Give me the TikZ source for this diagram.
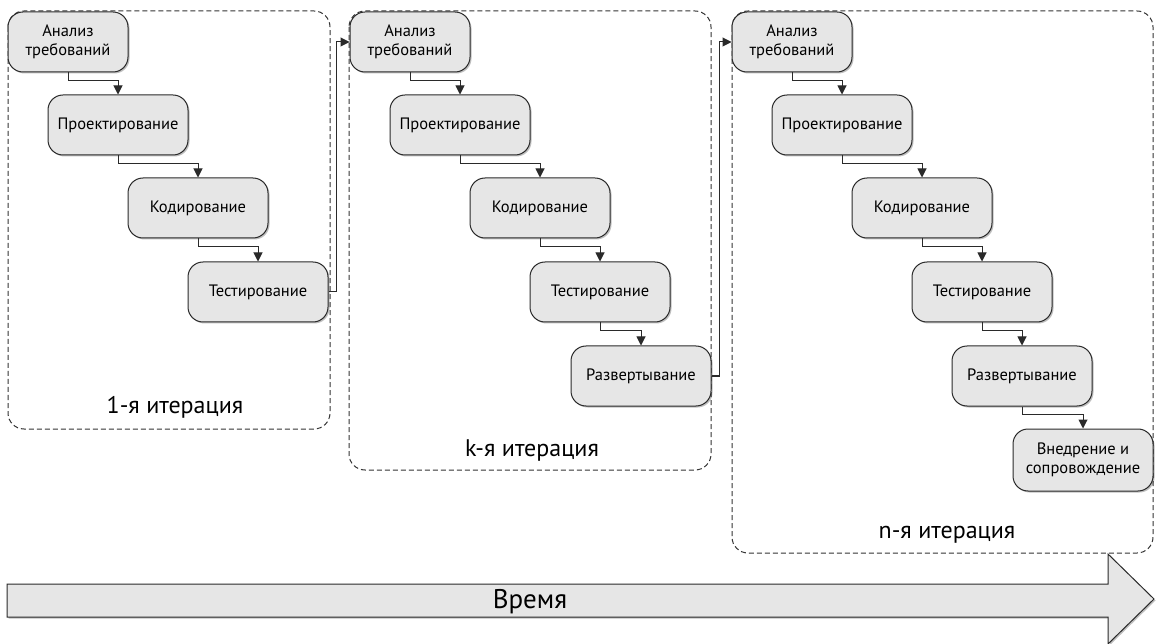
\documentclass[tikz,border=0pt]{standalone}
\usepackage{fontspec}
\setmainfont{PT Sans}
\usetikzlibrary{arrows.meta,shadows}
\definecolor{boxfill}{HTML}{E6E6E6}
\definecolor{linecol}{HTML}{2A2A2A}
\tikzset{
  stage/.style={draw=linecol, line width=1pt, fill=boxfill, rounded corners=15pt,
    minimum width=140pt, minimum height=60pt, align=center, inner sep=2pt,
    font=\fontsize{16.5}{19}\selectfont,
    drop shadow={shadow xshift=1.5pt, shadow yshift=-1.5pt, opacity=0.25, fill=black}},
  stagesmall/.style={stage, minimum width=120pt},
  conn/.style={draw=linecol, line width=1pt, -{Triangle[length=9pt,width=9pt]}},
  group/.style={draw=black!80, line width=1pt, dash pattern=on 5pt off 3pt, rounded corners=16pt},
  grouplabel/.style={font=\fontsize{24}{28}\selectfont, inner sep=0pt},
}
\begin{document}
\begin{tikzpicture}[x=1pt,y=-1pt]
\useasboundingbox (0,0) rectangle (1157,644);
% groups
\draw[group] (8,11) rectangle (330,429);
\draw[group] (349,11) rectangle (711,470);
\draw[group] (732,11) rectangle (1153,553);
\node[grouplabel] (L1) at (175,407) {1-я итерация};
\node[grouplabel] (L2) at (532,450) {k-я итерация};
\node[grouplabel] (L3) at (947,535) {n-я итерация};
% group 1
\node[stagesmall] (A1) at (68,42) {Анализ\\требований};
\node[stage] (P1) at (118,125) {Проектирование};
\node[stage] (K1) at (198,208) {Кодирование};
\node[stage] (T1) at (258,292) {Тестирование};
% group 2
\node[stagesmall] (A2) at (410,42) {Анализ\\требований};
\node[stage] (P2) at (460,125) {Проектирование};
\node[stage] (K2) at (540,208) {Кодирование};
\node[stage] (T2) at (600,292) {Тестирование};
\node[stage] (R2) at (641,376) {Развертывание};
% group 3
\node[stagesmall] (A3) at (792,42) {Анализ\\требований};
\node[stage] (P3) at (842,125) {Проектирование};
\node[stage] (K3) at (922,208) {Кодирование};
\node[stage] (T3) at (982,292) {Тестирование};
\node[stage] (R3) at (1022,376) {Развертывание};
\node[stage, minimum height=62pt] (V3) at (1083,460) {Внедрение и\\сопровождение};
% connectors
\foreach \a/\b in {A1/P1,P1/K1,K1/T1,A2/P2,P2/K2,K2/T2,T2/R2,A3/P3,P3/K3,K3/T3,T3/R3,R3/V3}
  \draw[conn] (\a.south) -- ++(0,8) -| (\b.north);
\draw[conn] (T1.east) -- ++(8,0) |- (A2.west);
\draw[conn] (R2.east) -- ++(8,0) |- (A3.west);
% time arrow
\draw[draw=linecol, line width=1pt, fill=boxfill,
  drop shadow={shadow xshift=1.5pt, shadow yshift=-1.5pt, opacity=0.25, fill=black}]
  (7,584) -- (1108,584) -- (1108,554) -- (1154,599) -- (1108,644) -- (1108,617) -- (7,617) -- cycle;
\node[font=\fontsize{27}{30}\selectfont] (time) at (530,602) {Время};
\end{tikzpicture}
\end{document}
